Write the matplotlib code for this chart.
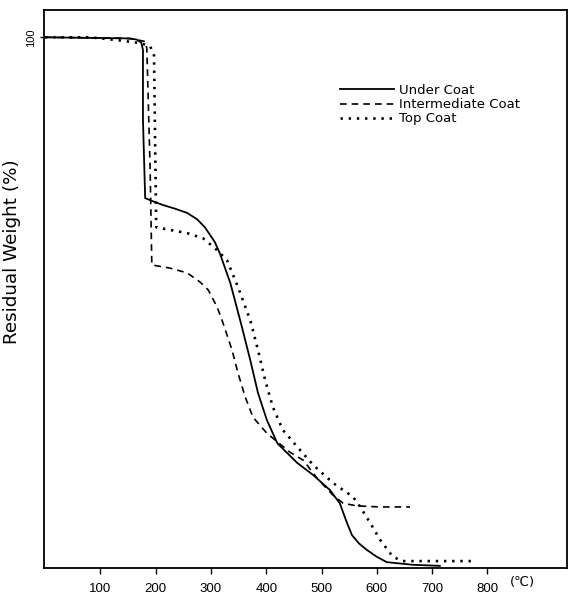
# -*- coding: utf-8 -*-
# TGA curves of the three coat layers (residual weight vs temperature)
import numpy as np
import matplotlib
matplotlib.use('Agg')
import matplotlib.pyplot as plt

# Under Coat (solid)
t_under = [0, 145, 165, 174, 177, 177, 181, 195, 213, 235, 257, 275, 289, 307, 316, 335, 356,
           371, 385, 401, 420, 456, 485, 515, 533, 546, 555, 568, 582, 600, 618, 665, 714]
w_under = [100, 99.8, 99.6, 99.0, 97.6, 84.4, 69.7, 69.1, 68.4, 67.7, 66.9, 65.7, 64.2, 61.4,
           59.3, 53.7, 45.4, 39.2, 33.0, 27.9, 23.5, 19.8, 17.5, 14.7, 12.2, 8.5, 6.2, 4.6,
           3.4, 2.1, 1.1, 0.6, 0.4]

# Intermediate Coat (dashed)
t_inter = [0, 154, 181, 184, 190, 193, 226, 257, 280, 295, 311, 320, 338, 349, 362, 376,
           401, 443, 467, 492, 521, 539, 564, 606, 660]
w_inter = [100, 99.8, 99.2, 97.9, 75.0, 57.1, 56.5, 55.6, 53.9, 52.4, 49.2, 46.7, 41.1, 36.7,
           32.2, 28.4, 25.4, 21.8, 20.3, 16.9, 13.7, 12.2, 11.7, 11.5, 11.5]

# Top Coat (dotted)
t_top = [0, 81, 136, 172, 190, 197, 199, 201, 226, 257, 286, 311, 329, 349, 371, 385, 398,
         412, 430, 458, 485, 521, 557, 570, 588, 606, 629, 647, 778]
w_top = [100, 100, 99.4, 98.9, 98.3, 96.6, 80.0, 64.2, 63.7, 63.1, 62.1, 59.9, 58.0, 52.9,
         46.7, 41.1, 35.4, 30.3, 26.0, 22.6, 19.4, 16.0, 13.4, 11.5, 8.5, 5.3, 2.1, 1.3, 1.3]

xticks = [100, 200, 300, 400, 500, 600, 700, 800]

fig = plt.figure(figsize=(5.76, 5.94), dpi=100)
ax = fig.add_axes([0.0764, 0.0438, 0.908, 0.939])

ax.plot(t_under, w_under, color='black', lw=1.3, label='Under Coat')
ax.plot(t_inter, w_inter, color='black', lw=1.2, dashes=(4, 3), label='Intermediate Coat')
ax.plot(t_top, w_top, color='black', lw=1.9, dashes=(0.9, 2.2), label='Top Coat')

ax.set_xlim(-2, 944)
ax.set_ylim(0, 105.1)

ax.set_xticks(xticks)
ax.set_xticklabels([str(v) for v in xticks], fontsize=9.5, family='Liberation Sans')
ax.set_yticks([100])
ax.set_yticklabels(['100'], rotation=90, va='center', fontsize=8, family='Liberation Sans')
ax.tick_params(axis='x', direction='out', length=4, width=1, pad=7)
ax.tick_params(axis='y', direction='out', length=3, width=1, pad=3)

for s in ax.spines.values():
    s.set_linewidth(1.3)
    s.set_color('black')

ax.set_ylabel('Residual Weight (%)', fontsize=13.2)
ax.yaxis.set_label_coords(-0.044, 0.568)

# unit label after the last tick
ax.text(0.89, -0.014, '(\u2103)', transform=ax.transAxes,
        fontsize=9.5, ha='left', va='top', family=['DejaVu Sans'])

leg = ax.legend(loc='upper left', bbox_to_anchor=(0.566, 0.868), frameon=False,
                fontsize=9.5, handlelength=4.1, handletextpad=0.4, labelspacing=0.1,
                borderpad=0, borderaxespad=0)

fig.savefig('out.png', dpi=100)
